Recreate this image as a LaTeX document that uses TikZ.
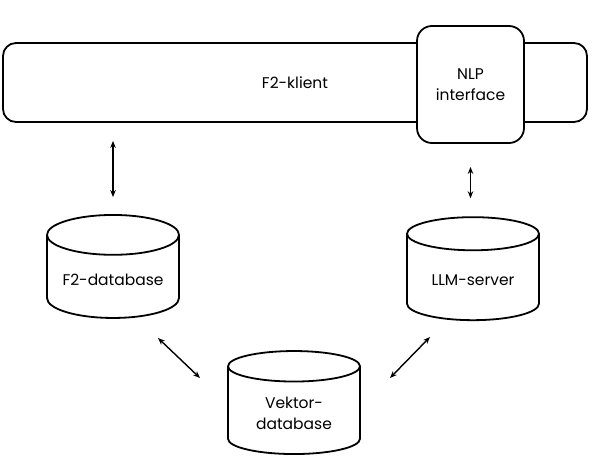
\documentclass[tikz,border=0pt]{standalone}
\usepackage{fontspec}
\setmainfont{Poppins}
\usetikzlibrary{arrows.meta,shapes.geometric}

\begin{document}
\begin{tikzpicture}[x=1pt, y=-1pt, >={Stealth[length=7pt,width=5.5pt]},
   box/.style={draw, line width=1.8pt, rounded corners=13pt, align=center, font=\fontsize{15.5}{21}\selectfont},
   db/.style={draw, line width=1.8pt, cylinder, shape border rotate=90, aspect=0.37,
      minimum width=132pt, minimum height=103pt, align=center, font=\fontsize{15.5}{21}\selectfont},
   link/.style={<->, line width=1.4pt}]
  \useasboundingbox (0,0) rectangle (592,457);
  % client with NLP part
  \node[box, minimum width=584pt, minimum height=79pt] (klient) at (295,82.5) {F2-klient};
  \node[box, fill=white, minimum width=107pt, minimum height=117pt, rounded corners=15pt] (nlp) at (470.5,84.5) {NLP\\interface};
  % storage and server
  \node[db] (f2db) at (113,280) {F2-database};
  \node[db] (llm) at (473,280) {LLM-server};
  \node[db] (vdb) at (294,413) {Vektor-\\database};
  % links
  \draw[link, shorten <=18pt, shorten >=17pt] (f2db.north |- klient.south) -- (f2db.north);
  \draw[link, shorten <=23pt, shorten >=18pt] (nlp.south) -- (nlp.south |- llm.north);
  \coordinate (a1) at (158,338);
  \coordinate (a2) at (200,378);
  \coordinate (b1) at (430,337);
  \coordinate (b2) at (390,378);
  \draw[link] (a1) -- (a2);
  \draw[link] (b1) -- (b2);
\end{tikzpicture}
\end{document}
